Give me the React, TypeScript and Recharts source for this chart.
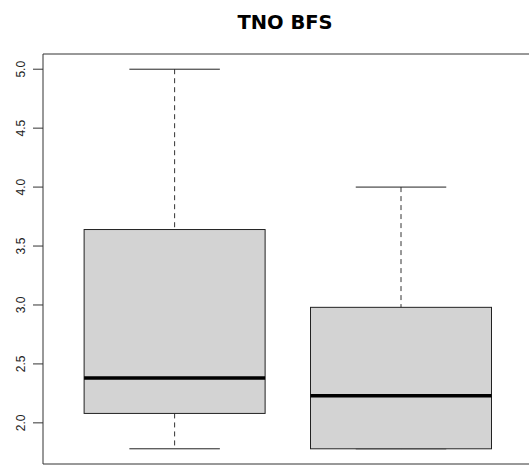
import { ComposedChart, Bar, XAxis, YAxis, ReferenceArea } from 'recharts';

// one box per group, positioned at x = 1, 2 like R's boxplot
const positions = [1, 2];
const mins = [1.78, 1.78];
const lowerQuartiles = [2.08, 1.78];
const medians = [2.38, 2.23];
const upperQuartiles = [3.64, 2.98];
const maxs = [5.0, 4.0];

const yTicks = [2.0, 2.5, 3.0, 3.5, 4.0, 4.5, 5.0];
const xDomain: [number, number] = [0.42, 2.58];
const yDomain: [number, number] = [1.651, 5.129];

const data = positions.map((pos, i) => ({
  pos,
  min: mins[i],
  q1: lowerQuartiles[i],
  median: medians[i],
  q3: upperQuartiles[i],
  max: maxs[i],
}));

const BoxShape = (props: any) => {
  const { x, y, width, height, payload } = props;
  const { min, q1, median, q3, max } = payload;
  // bar spans [min, max], so map values inside it linearly
  const toY = (v: number) => y + ((max - v) / (max - min)) * height;
  const cx = x + width / 2;
  const capHalf = width / 4;
  return (
    <g>
      <line x1={cx} x2={cx} y1={toY(max)} y2={toY(q3)} stroke="#333" strokeDasharray="5 4" />
      <line x1={cx} x2={cx} y1={toY(q1)} y2={toY(min)} stroke="#333" strokeDasharray="5 4" />
      <line x1={cx - capHalf} x2={cx + capHalf} y1={toY(max)} y2={toY(max)} stroke="#222" />
      <line x1={cx - capHalf} x2={cx + capHalf} y1={toY(min)} y2={toY(min)} stroke="#222" />
      <rect x={x} y={toY(q3)} width={width} height={toY(q1) - toY(q3)} fill="#d3d3d3" stroke="#222" />
      <line x1={x} x2={x + width} y1={toY(median)} y2={toY(median)} stroke="#000" strokeWidth={3.5} />
    </g>
  );
};

const YTick = (props: any) => {
  const { x, y, payload } = props;
  const tx = x - 6;
  return (
    <text x={tx} y={y} transform={`rotate(-90, ${tx}, ${y})`} textAnchor="middle"
      fontSize={12} fontFamily="Liberation Sans, Arial, sans-serif" fill="#222">
      {Number(payload.value).toFixed(1)}
    </text>
  );
};

export default function App() {
  return (
    <div style={{ position: 'absolute', left: 0, top: 0, width: 529, height: 468, background: '#fff' }}>
      <svg width={529} height={40} style={{ position: 'absolute', left: 0, top: 0 }}>
        <text x={285} y={29} textAnchor="middle" fontFamily="DejaVu Sans, sans-serif"
          fontWeight="bold" fontSize={19.5} fill="#000">
          TNO BFS
        </text>
      </svg>
      <ComposedChart width={529} height={468} data={data}
        margin={{ top: 54, right: -3, bottom: 4, left: 0 }}>
        <XAxis dataKey="pos" type="number" domain={xDomain} ticks={positions}
          allowDataOverflow height={0} axisLine={false} tickSize={10}
          tickLine={{ stroke: '#333' }} tick={() => <g />} />
        <YAxis type="number" domain={yDomain} ticks={yTicks} allowDataOverflow
          width={43} axisLine={false} tickSize={10} tickLine={{ stroke: '#333' }} tick={<YTick />} />
        <ReferenceArea x1={xDomain[0]} x2={xDomain[1]} y1={yDomain[0]} y2={yDomain[1]}
          fill="none" fillOpacity={0} stroke="#333" strokeWidth={1} ifOverflow="visible" />
        <Bar dataKey={(d: any) => [d.min, d.max]} barSize={181} shape={<BoxShape />}
          isAnimationActive={false} />
      </ComposedChart>
    </div>
  );
}
